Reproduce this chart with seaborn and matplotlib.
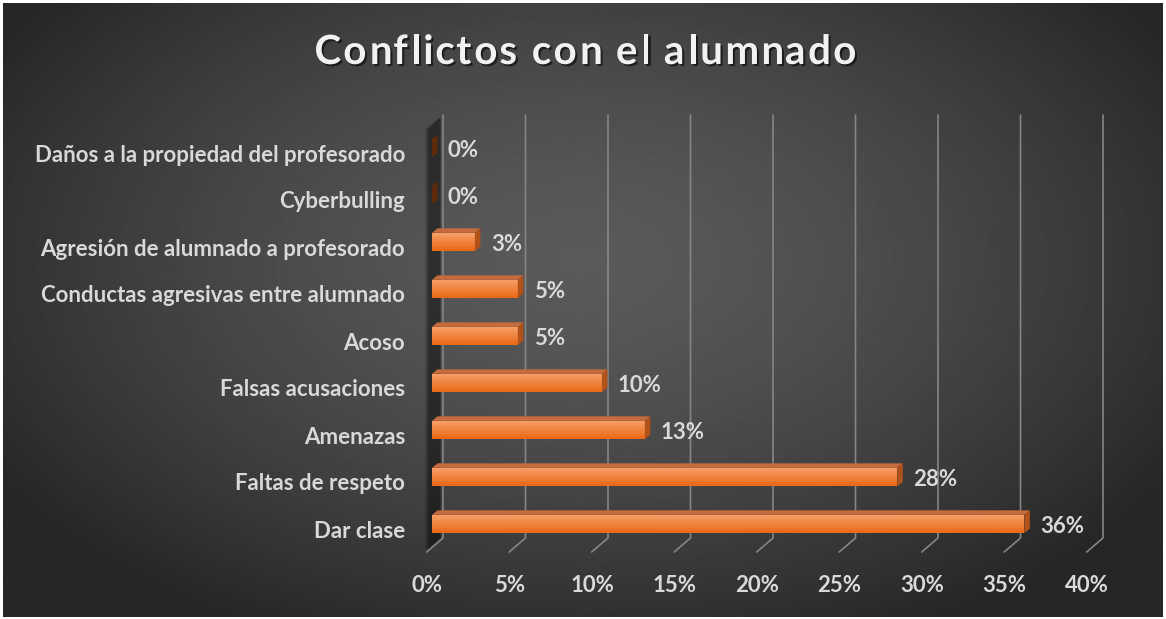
# -*- coding: utf-8 -*-
"""
Conflictos con el alumnado - barras horizontales con aspecto 3D (estilo Excel oscuro)
"""
import numpy as np
import matplotlib
matplotlib.use("Agg")
import matplotlib.pyplot as plt
import matplotlib.patheffects as pe
import seaborn as sns
from matplotlib.patches import Polygon, Rectangle
from matplotlib.lines import Line2D
from matplotlib.transforms import IdentityTransform, ScaledTranslation
from matplotlib.font_manager import FontProperties, findfont, get_font
from matplotlib.colors import to_rgb

# --- datos ---
categorias = [
    "Daños a la propiedad del profesorado",
    "Cyberbulling",
    "Agresión de alumnado a profesorado",
    "Conductas agresivas entre alumnado",
    "Acoso",
    "Falsas acusaciones",
    "Amenazas",
    "Faltas de respeto",
    "Dar clase",
]
porcentajes = [0.0, 0.0, 2.6, 5.2, 5.2, 10.3, 12.9, 28.2, 35.9]
ticks_x = [0, 5, 10, 15, 20, 25, 30, 35, 40]
etiquetas_x = [f"{t}%" for t in ticks_x]
titulo = "Conflictos con el alumnado"

W, H = 1166, 619
FUENTE = "Lato"
COLOR_TEXTO = "#d9d9d9"
TAM = 16

sns.set_theme(style="white")
plt.rcParams['font.family'] = [FUENTE, 'DejaVu Sans']

fig = plt.figure(figsize=(W / 100, H / 100), dpi=100, facecolor='white')

# --- fondo con degradado radial ---
bg = fig.add_axes([3 / W, 2 / H, (W - 6) / W, (H - 5) / H])
bg.set_axis_off()
yy, xx = np.mgrid[0:H, 0:W]
r = np.sqrt(((xx - 583) / 700.0) ** 2 + ((yy - 260) / 420.0) ** 2)
t = np.clip(r, 0, 1) ** 1.5
gris = 0x5a / 255 * (1 - t) + 0x26 / 255 * t
bg.imshow(gris, cmap='gray', vmin=0, vmax=1, aspect='auto', interpolation='bilinear')

# --- ejes principales (plano frontal de las barras) ---
ax = fig.add_axes([432 / W, (H - 547.5) / H, 660 / W, 423 / H])
ax.patch.set_alpha(0)
sns.barplot(x=porcentajes, y=categorias, orient='h', color='#ef7a2c', width=0.39,
            saturation=1, linewidth=0, ax=ax, zorder=3)
ax.set_xlim(0, 40)
ax.set_ylim(8.5, -0.5)
for s in ax.spines.values():
    s.set_visible(False)
ax.grid(False)
ax.set_xlabel('')
ax.set_ylabel('')

ident = IdentityTransform()

# pared del fondo: líneas de cuadrícula en perspectiva
for v in ticks_x:
    xf = ax.transData.transform((v, 0))[0]
    ax.add_line(Line2D([xf + 11, xf + 11, xf - 5.3], [H - 115, H - 538, H - 552],
                       transform=ident, color='#858585', lw=1.2, zorder=1, clip_on=False))

# sombra difusa de la pared izquierda
x0f = ax.transData.transform((0, 0))[0]
for ancho in np.linspace(0, 4, 6):
    ax.add_patch(Polygon([(x0f + 9 - ancho * 0.3, H - 117), (x0f + 9 - ancho * 0.3, H - 538),
                          (x0f - 3 - ancho, H - 550), (x0f - 3 - ancho, H - 129)],
                         closed=True, transform=ident, facecolor='black', alpha=0.09,
                         edgecolor='none', zorder=0.8, clip_on=False))

# caras 3D de las barras
dx, dy = 5.5, 4.5
c_arriba, c_abajo = np.array(to_rgb('#f59c64')), np.array(to_rgb('#ea6a18'))
for barra, v in zip(ax.patches, porcentajes):
    bx, by = barra.get_x(), barra.get_y()
    bw, bh = barra.get_width(), barra.get_height()
    px0, ptop = ax.transData.transform((bx, by))
    px1, pbot = ax.transData.transform((bx + bw, by + bh))
    if bw > 0:
        n = 10
        for k in range(n):
            f = k / (n - 1)
            col = c_arriba * (1 - f) + c_abajo * f
            ax.add_patch(Rectangle((bx, by + k * bh / n), bw, bh / n * 1.05,
                                   facecolor=col, edgecolor='none', zorder=3.5))
        ax.add_patch(Polygon([(px0, ptop), (px1, ptop), (px1 + dx, ptop + dy), (px0 + dx, ptop + dy)],
                             closed=True, transform=ident, facecolor='#c56b3e',
                             edgecolor='none', zorder=3.6, clip_on=False))
        lado = '#b1521b'
    else:
        lado = '#5e2a0c'
    ax.add_patch(Polygon([(px1, ptop), (px1 + dx, ptop + dy), (px1 + dx, pbot + dy), (px1, pbot)],
                         closed=True, transform=ident, facecolor=lado,
                         edgecolor='none', zorder=3.6, clip_on=False))

# etiquetas de datos
for i, v in enumerate(porcentajes):
    ax.annotate(f"{v:.0f}%", xy=(v, i), xytext=(11.5, -1.5), textcoords='offset points',
                ha='left', va='center', fontsize=TAM, fontweight='bold', color=COLOR_TEXTO,
                zorder=5)

# ejes
ax.set_xticks(ticks_x, etiquetas_x)
ax.tick_params(axis='x', length=0, pad=20, labelsize=TAM, labelcolor=COLOR_TEXTO)
ax.tick_params(axis='y', length=0, pad=19.4, labelsize=TAM, labelcolor=COLOR_TEXTO)
for lbl in ax.get_xticklabels():
    lbl.set_fontweight('bold')
    lbl.set_transform(lbl.get_transform() + ScaledTranslation(-0.05, 0, fig.dpi_scale_trans))
for lbl in ax.get_yticklabels():
    lbl.set_fontweight('bold')
    lbl.set_transform(lbl.get_transform() + ScaledTranslation(0, -0.05, fig.dpi_scale_trans))

# título con espaciado entre letras
tam_titulo = 29
fp = FontProperties(family=FUENTE, weight='bold', size=tam_titulo)
fuente = get_font(findfont(fp))
fuente.set_size(tam_titulo, 100)
glifos = [fuente.load_char(ord(c)) for c in titulo]
avances = [g.linearHoriAdvance / 65536 for g in glifos]
extra = (542 - sum(avances)) / (len(titulo) - 1)
xpen = 313
for c, g, a in zip(titulo, glifos, avances):
    if c != ' ':
        fig.text((xpen + g.horiBearingX / 64) / W, (H - 64) / H, c, ha='left', va='baseline',
                 fontsize=tam_titulo, fontweight='bold', color='#f2f2f2',
                 path_effects=[pe.withSimplePatchShadow(offset=(1.5, -1.5), shadow_rgbFace='black',
                                                        alpha=0.55)])
    xpen += a + extra

fig.savefig("out.png", dpi=100, facecolor=fig.get_facecolor())
